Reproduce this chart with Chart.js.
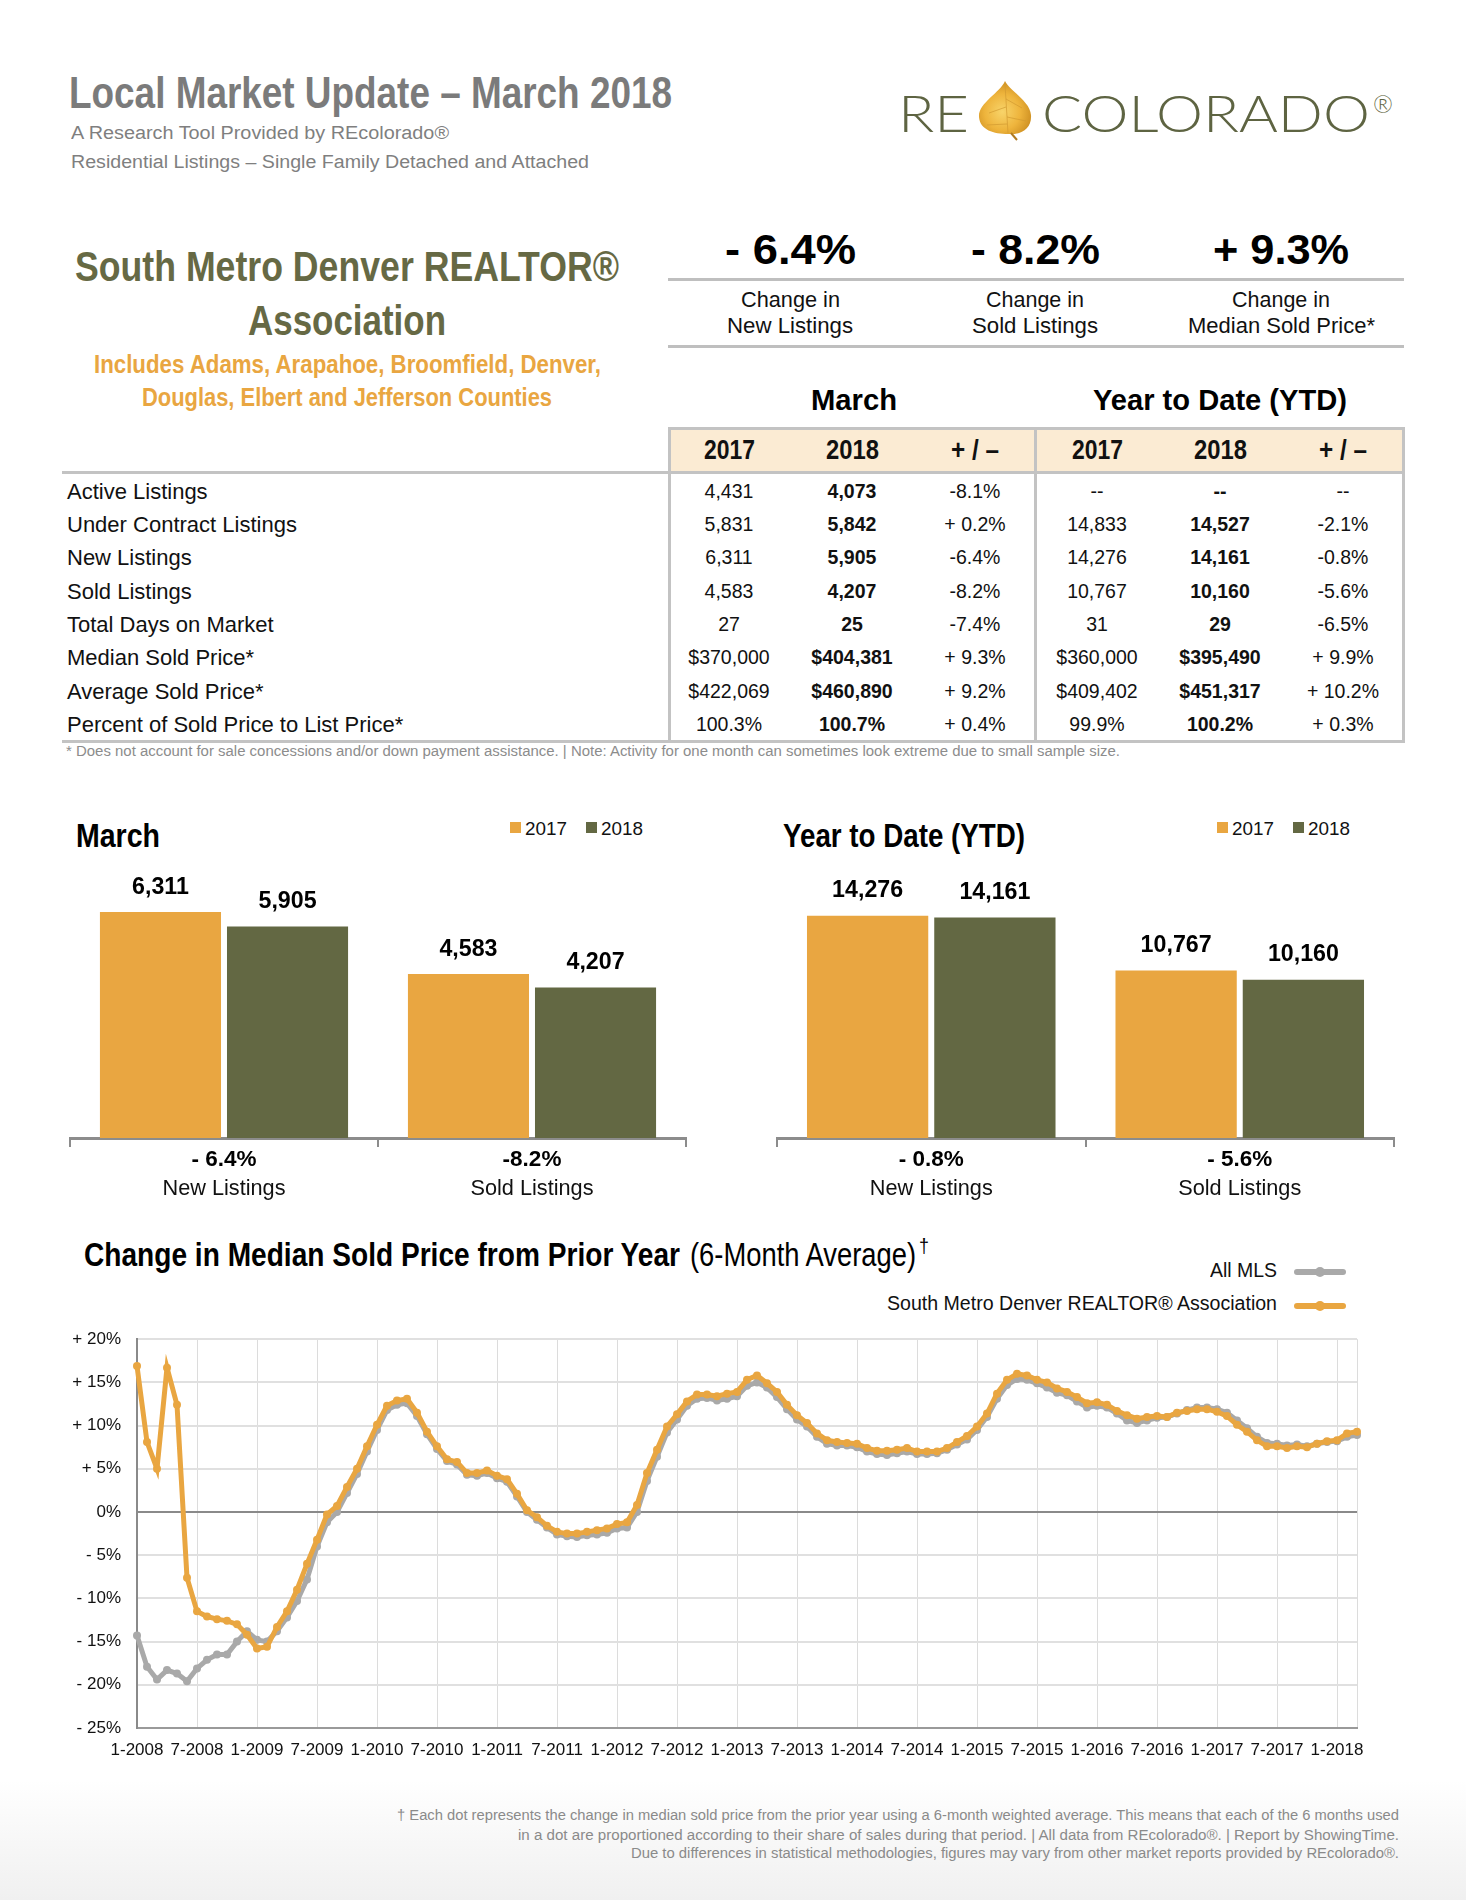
<!DOCTYPE html>
<html><head><meta charset="utf-8">
<script src="https://cdn.jsdelivr.net/npm/chart.js@4.4.1/dist/chart.umd.min.js"></script>
<style>
html,body{margin:0;padding:0;background:#fff;}
#page{position:relative;width:1466px;height:1900px;overflow:hidden;background:#fff;}
.t{position:absolute;white-space:nowrap;line-height:1;}
.r{position:absolute;}
canvas{position:absolute;}
</style></head><body><div id="page"></div>
<script>
// ---------------- DATA ----------------
const barCategories = ['New Listings', 'Sold Listings'];
const march2017 = [6311, 4583];
const march2018 = [5905, 4207];
const marchChange = ['- 6.4%', '-8.2%'];
const ytd2017 = [14276, 10767];
const ytd2018 = [14161, 10160];
const ytdChange = ['- 0.8%', '- 5.6%'];
const seriesYears = ['2017', '2018'];

const lineStart = {year: 2008, month: 1};
const lineEnd = {year: 2018, month: 3};
const smdSeries = [16.9,8.1,5.0,16.7,12.4,-7.6,-11.5,-12.1,-12.4,-12.6,-13.0,-14.2,
  -15.8,-15.6,-13.3,-11.5,-9.0,-6.0,-3.2,-0.3,0.7,2.9,5.0,7.6,
  10.1,12.3,12.9,13.1,11.5,9.3,7.6,6.1,5.8,4.5,4.5,4.8,
  4.2,3.8,2.1,0.2,-0.6,-1.6,-2.3,-2.5,-2.5,-2.3,-2.1,-1.9,
  -1.4,-1.2,0.8,4.5,7.2,9.9,11.3,12.8,13.6,13.6,13.4,13.7,
  13.9,15.3,15.8,14.9,13.9,12.4,11.2,10.3,9.1,8.3,8.1,8.0,
  7.9,7.4,7.1,7.1,7.2,7.4,7.0,7.0,7.0,7.4,8.1,8.8,
  9.9,11.4,13.7,15.3,16.0,15.8,15.3,15.0,14.3,13.9,13.3,12.6,
  12.7,12.4,11.7,11.2,10.8,11.0,11.1,11.0,11.5,11.7,11.9,11.9,
  11.6,11.1,10.1,9.3,8.3,7.6,7.6,7.4,7.6,7.5,7.9,8.2,
  8.3,9.1,9.3];
const mlsSeries = [-14.3,-17.9,-19.4,-18.3,-18.7,-19.6,-18.1,-17.1,-16.5,-16.5,-15.0,-13.8,
  -14.8,-15.0,-13.8,-12.2,-10.3,-7.8,-4.0,-1.2,0.0,2.2,4.4,7.0,
  9.5,11.8,12.4,12.6,11.1,9.0,7.3,5.9,5.5,4.3,4.2,4.5,
  3.9,3.5,1.8,0.0,-0.9,-1.8,-2.6,-2.8,-2.9,-2.7,-2.6,-2.4,
  -1.9,-1.8,0.0,3.6,6.4,9.2,10.7,12.3,13.1,13.2,12.9,13.1,
  13.4,14.6,15.0,14.4,13.3,11.9,10.7,9.9,8.7,7.9,7.7,7.7,
  7.5,7.0,6.7,6.6,6.8,7.0,6.7,6.7,6.8,7.2,7.8,8.4,
  9.5,11.0,13.1,14.7,15.4,15.3,14.9,14.4,13.8,13.5,12.8,12.1,
  12.3,12.1,11.4,10.6,10.3,10.6,10.9,11.0,11.4,11.8,12.1,12.1,
  11.9,11.5,10.6,9.7,8.7,8.0,7.9,7.7,7.8,7.6,7.9,8.1,
  8.2,8.7,8.9];
const yTickLabels = ['- 25%','- 20%','- 15%','- 10%','- 5%','0%','+ 5%','+ 10%','+ 15%','+ 20%'];
const lineLegend = ['All MLS', 'South Metro Denver REALTOR® Association'];

const keyFigures = ['- 6.4%', '- 8.2%', '+ 9.3%'];
const keyLabels = [['Change in','New Listings'],['Change in','Sold Listings'],['Change in','Median Sold Price*']];

const rowLabels = ['Active Listings','Under Contract Listings','New Listings','Sold Listings','Total Days on Market','Median Sold Price*','Average Sold Price*','Percent of Sold Price to List Price*'];
const tMarch2017 = ['4,431','5,831','6,311','4,583','27','$370,000','$422,069','100.3%'];
const tMarch2018 = ['4,073','5,842','5,905','4,207','25','$404,381','$460,890','100.7%'];
const tMarchChg  = ['-8.1%','+ 0.2%','-6.4%','-8.2%','-7.4%','+ 9.3%','+ 9.2%','+ 0.4%'];
const tYtd2017   = ['--','14,833','14,276','10,767','31','$360,000','$409,402','99.9%'];
const tYtd2018   = ['--','14,527','14,161','10,160','29','$395,490','$451,317','100.2%'];
const tYtdChg    = ['--','-2.1%','-0.8%','-5.6%','-6.5%','+ 9.9%','+ 10.2%','+ 0.3%'];

// ---------------- STYLE / LAYOUT ----------------
const ORANGE = '#e9a641', OLIVE = '#636843', GRAYL = '#a9a9a9';
const NARROW = "'Liberation Sans Narrow','Liberation Sans',Arial,sans-serif";
const SANS = "'Liberation Sans',Arial,Helvetica,sans-serif";
const page = document.getElementById('page');

function T(txt, o){
  const d = document.createElement('div');
  d.className = 't';
  d.textContent = txt;
  d.style.fontFamily = o.f || SANS;
  d.style.fontSize = o.s + 'px';
  d.style.fontWeight = o.b ? '700' : (o.wt || '400');
  d.style.color = o.c || '#111';
  d.style.top = (o.cy - o.s/2) + 'px';
  d.style.left = '0px';
  page.appendChild(d);
  const nat = d.getBoundingClientRect().width;
  const sx = o.w ? o.w / nat : (o.sx || 1);
  const W = nat * sx;
  let left = o.x;
  if (o.a === 'c') left = o.x - W/2; else if (o.a === 'r') left = o.x - W;
  d.style.left = left + 'px';
  d.style.transformOrigin = '0 0';
  d.style.transform = 'scaleX(' + sx + ')';
  return d;
}
function R(x, y, w, h, bg, extra){
  const d = document.createElement('div');
  d.className = 'r';
  d.style.left = x+'px'; d.style.top = y+'px'; d.style.width = w+'px'; d.style.height = h+'px';
  d.style.background = bg;
  if (extra) Object.assign(d.style, extra);
  page.appendChild(d);
  return d;
}

// bottom shade
R(0, 1780, 1466, 120, 'linear-gradient(#ffffff, #f0f0f0)');

// header
T('Local Market Update – March 2018', {x:69, cy:92, s:45, b:1, f:NARROW, c:'#7b7b7b', w:603});
T('A Research Tool Provided by REcolorado®', {x:71, cy:133, s:18, c:'#7f7f7f', w:378});
T('Residential Listings – Single Family Detached and Attached', {x:71, cy:162, s:18, c:'#7f7f7f', w:518});

// logo
T('RE', {x:898, cy:112, s:52, f:"Lato,'Open Sans',sans-serif", wt:'300', c:'#5e6442', w:71});
T('COLORADO', {x:1042, cy:112, s:52, f:"Lato,'Open Sans',sans-serif", wt:'300', c:'#5e6442', w:328});
T('®', {x:1373, cy:104, s:24, f:"Lato,'Open Sans',sans-serif", wt:'300', c:'#5e6442', w:20});
page.insertAdjacentHTML('beforeend',
 '<svg style="position:absolute;left:972px;top:79px" width="66" height="62" viewBox="0 0 66 62">'+
 '<defs><radialGradient id="lg" cx="45%" cy="58%" r="62%"><stop offset="0" stop-color="#f8d46a"/><stop offset="0.55" stop-color="#eeb43c"/><stop offset="1" stop-color="#c98a1e"/></radialGradient></defs>'+
 '<path d="M33 2 C 38 12, 58 22, 59 36 C 60 50, 49 56, 36 55 C 22 55, 8 51, 7 38 C 6 24, 28 14, 33 2 Z" fill="url(#lg)"/>'+
 '<path d="M33 5 L 36 54 M34 20 L 50 29 M34 28 L 17 34 M35 38 L 54 42 M35 45 L 15 46" stroke="#d29a30" stroke-width="1" fill="none" opacity="0.7"/>'+
 '<path d="M39 54 L 45 61" stroke="#b07a20" stroke-width="2"/></svg>');

// association
T('South Metro Denver REALTOR®', {x:347, cy:267, s:42, b:1, f:NARROW, c:'#666944', a:'c', w:544});
T('Association', {x:347, cy:321, s:42, b:1, f:NARROW, c:'#666944', a:'c', w:198});
T('Includes Adams, Arapahoe, Broomfield, Denver,', {x:347, cy:364, s:25, b:1, f:NARROW, c:ORANGE, a:'c', w:507});
T('Douglas, Elbert and Jefferson Counties', {x:347, cy:397, s:25, b:1, f:NARROW, c:ORANGE, a:'c', w:410});

// key figures
const keyX = [790, 1035, 1281];
const keyW = [131, 129, 136];
const keyLW = [[99,126],[98,126],[98,187]];
keyFigures.forEach((k,i)=>{
  T(k, {x:keyX[i], cy:249, s:43, b:1, f:NARROW, c:'#000', a:'c', w:keyW[i]});
  T(keyLabels[i][0], {x:keyX[i], cy:300, s:22, c:'#111', a:'c', w:keyLW[i][0]});
  T(keyLabels[i][1], {x:keyX[i], cy:326, s:22, c:'#111', a:'c', w:keyLW[i][1]});
});
R(668, 278, 736, 3, '#bfbfbf');
R(668, 345, 736, 3, '#bfbfbf');

// table
T('March', {x:854, cy:400, s:30, b:1, f:NARROW, c:'#000', a:'c', w:86});
T('Year to Date (YTD)', {x:1220, cy:400, s:30, b:1, f:NARROW, c:'#000', a:'c', w:254});
R(669, 428, 735, 45, '#fbebd3');
R(669, 427, 736, 3, '#c3c3c3');
R(62, 471, 1343, 3, '#c3c3c3');
R(62, 740, 1343, 3, '#c3c3c3');
R(668, 427, 3, 316, '#c3c3c3');
R(1034, 427, 3, 316, '#c3c3c3');
R(1402, 427, 3, 316, '#c3c3c3');
const colX = [729, 852, 975, 1097, 1220, 1343];
const headTxt = ['2017','2018','+ / –','2017','2018','+ / –'];
const headW = [51, 53, 48, 51, 53, 48];
headTxt.forEach((h,i)=>T(h, {x:colX[i], cy:450, s:27, b:1, f:NARROW, c:'#111', a:'c', w:headW[i]}));
const rowY = [492, 525, 558, 592, 625, 658, 692, 725];
const cols = [tMarch2017, tMarch2018, tMarchChg, tYtd2017, tYtd2018, tYtdChg];
rowLabels.forEach((lab, r)=>{
  T(lab, {x:67, cy:rowY[r], s:22, c:'#111'});
  cols.forEach((col, ci)=>{
    T(col[r], {x:colX[ci], cy:rowY[r], s:19.5, b:(ci===1||ci===4), c:'#111', a:'c'});
  });
});
T('* Does not account for sale concessions and/or down payment assistance.  |  Note: Activity for one month can sometimes look extreme due to small sample size.', {x:66, cy:751, s:14, c:'#8c8c8c', w:1054});

// bar chart titles + legends
T('March', {x:76, cy:835, s:33, b:1, f:NARROW, c:'#000', w:84});
T('Year to Date (YTD)', {x:783, cy:835, s:33, b:1, f:NARROW, c:'#000', w:242});
function barLegend(x0){
  R(x0, 822, 11, 11, ORANGE);
  T(seriesYears[0], {x:x0+15, cy:828, s:19, c:'#111', w:42});
  R(x0+76, 822, 11, 11, OLIVE);
  T(seriesYears[1], {x:x0+91, cy:828, s:19, c:'#111', w:42});
}
barLegend(510);
barLegend(1217);

// line chart titles + legend
T('Change in Median Sold Price from Prior Year', {x:84, cy:1254, s:34, b:1, f:NARROW, c:'#000', w:596});
T('(6-Month Average)', {x:690, cy:1254, s:34, f:NARROW, c:'#000', w:226});
T('†', {x:919, cy:1246, s:20, c:'#000', w:10});
T(lineLegend[0], {x:1277, cy:1271, s:19.5, c:'#111', a:'r', w:67});
T(lineLegend[1], {x:1277, cy:1304, s:19.5, c:'#111', a:'r', w:390});
R(1294, 1269, 52, 6, GRAYL, {borderRadius:'3px'});
R(1315, 1267, 10, 10, GRAYL, {borderRadius:'5px'});
R(1294, 1303, 52, 6, ORANGE, {borderRadius:'3px'});
R(1315, 1301, 10, 10, ORANGE, {borderRadius:'5px'});

// footer
T('† Each dot represents the change in median sold price from the prior year using a 6-month weighted average. This means that each of the 6 months used', {x:1399, cy:1815, s:14, c:'#8a8a8a', a:'r', w:1002});
T('in a dot are proportioned according to their share of sales during that period.  |  All data from REcolorado®.  |  Report by ShowingTime.', {x:1399, cy:1835, s:14, c:'#8a8a8a', a:'r', w:881});
T('Due to differences in statistical methodologies, figures may vary from other market reports provided by REcolorado®.', {x:1399, cy:1853, s:14, c:'#8a8a8a', a:'r', w:768});

// ---------------- CHARTS ----------------
const mctx = document.createElement('canvas').getContext('2d');
function fitScale(str, font, target){ mctx.font = font; return target / mctx.measureText(str).width; }
function drawText(ctx, s, x, cy, font, sx, color){
  ctx.save(); ctx.font = font; ctx.fillStyle = color || '#000';
  ctx.textAlign = 'center'; ctx.textBaseline = 'middle';
  ctx.translate(x, cy); ctx.scale(sx, 1); ctx.fillText(s, 0, 0); ctx.restore();
}
const VAL_FONT = "bold 24px " + NARROW;
const CHG_FONT = "bold 22px " + NARROW;
const CAT_FONT = "22px " + SANS;
const valSx = fitScale('14,276', VAL_FONT, 71);
const chgSx = fitScale('- 6.4%', CHG_FONT, 65);
const catSx = fitScale('New Listings', CAT_FONT, 123);

const barLabelPlugin = {
  id: 'barLabelPlugin',
  afterDatasetsDraw(chart, args, opts){
    const ctx = chart.ctx;
    chart.data.datasets.forEach((ds, di)=>{
      chart.getDatasetMeta(di).data.forEach((el, j)=>{
        drawText(ctx, ds.data[j].toLocaleString('en-US'), el.x, el.y - 25, VAL_FONT, valSx, '#000');
      });
    });
    const xs = chart.scales.x;
    chart.data.labels.forEach((lab, j)=>{
      const x = xs.getPixelForValue(j);
      drawText(ctx, opts.changes[j], x, opts.cy1, CHG_FONT, chgSx, '#000');
      drawText(ctx, lab, x, opts.cy2, CAT_FONT, catSx, '#111');
    });
  }
};

function makeBar(left, width, d17, d18, changes, max){
  const c = document.createElement('canvas');
  c.width = width; c.height = 440;
  c.style.left = left + 'px'; c.style.top = '780px';
  c.style.width = width + 'px'; c.style.height = '440px';
  page.appendChild(c);
  new Chart(c, {
    type: 'bar',
    data: {
      labels: barCategories,
      datasets: [
        {label: seriesYears[0], data: d17, backgroundColor: ORANGE, categoryPercentage: 0.825, barPercentage: 0.953},
        {label: seriesYears[1], data: d18, backgroundColor: OLIVE, categoryPercentage: 0.825, barPercentage: 0.953}
      ]
    },
    options: {
      responsive: false, animation: false,
      layout: {padding: {left: 3, right: 3, top: 0, bottom: 0}},
      plugins: {legend: {display: false}, tooltip: {enabled: false},
        barLabelPlugin: {changes: changes, cy1: 380, cy2: 409}},
      scales: {
        x: {
          grid: {display: true, drawOnChartArea: false, drawTicks: true, tickLength: 9, color: '#8c8c8c', lineWidth: 2, offset: true},
          border: {display: true, color: '#8c8c8c', width: 3},
          ticks: {display: false},
          afterFit(s){ s.height = 82; }
        },
        y: {display: false, min: 0, max: max}
      }
    },
    plugins: [barLabelPlugin]
  });
}
makeBar(67, 622, march2017, march2018, marchChange, 10000);
makeBar(774, 623, ytd2017, ytd2018, ytdChange, 23000);

// line chart
const monthLabels = [];
for (let y = lineStart.year, m = lineStart.month; y < lineEnd.year || (y === lineEnd.year && m <= lineEnd.month); ){
  monthLabels.push(m + '-' + y);
  m++; if (m > 12){ m = 1; y++; }
}
(function(){
  const c = document.createElement('canvas');
  c.width = 1340; c.height = 470;
  c.style.left = '40px'; c.style.top = '1313px';
  c.style.width = '1340px'; c.style.height = '470px';
  page.appendChild(c);
  const last = monthLabels.length - 1;
  new Chart(c, {
    type: 'line',
    data: {
      labels: monthLabels,
      datasets: [
        {label: lineLegend[1], data: smdSeries, borderColor: ORANGE, backgroundColor: ORANGE,
          borderWidth: 5, pointRadius: 4, pointHoverRadius: 4, pointBorderWidth: 0, tension: 0, order: 0, clip: false},
        {label: lineLegend[0], data: mlsSeries, borderColor: GRAYL, backgroundColor: GRAYL,
          borderWidth: 5, pointRadius: 4, pointHoverRadius: 4, pointBorderWidth: 0, tension: 0, order: 1, clip: false}
      ]
    },
    options: {
      responsive: false, animation: false,
      layout: {padding: {left: 0, right: 23, top: 0, bottom: 0}},
      plugins: {legend: {display: false}, tooltip: {enabled: false}},
      scales: {
        x: {
          type: 'category',
          grid: {color: (ctx)=> ctx.index === last ? '#c4c4c4' : '#dcdcdc', lineWidth: 1, drawTicks: false},
          border: {display: true, color: '#9a9a9a', width: 2},
          ticks: {
            autoSkip: false, maxRotation: 0, minRotation: 0, padding: 12,
            font: {family: SANS, size: 17}, color: '#111',
            callback: function(val, idx){
              const l = this.getLabelForValue(val);
              if (l.startsWith('1-') || l.startsWith('7-')) return l;
              return idx === last ? '' : null;
            }
          },
          afterFit(s){ s.height = 55; }
        },
        y: {
          min: -25, max: 20,
          grid: {color: (ctx)=> ctx.tick && ctx.tick.value === 0 ? '#8a8a8a' : '#e0e0e0', lineWidth: 2, drawTicks: false},
          border: {display: true, color: '#8a8a8a', width: 2},
          ticks: {stepSize: 5, padding: 16, font: {family: SANS, size: 17}, color: '#111',
            callback: (v)=> yTickLabels[Math.round((v + 25) / 5)]},
          afterFit(s){ s.width = 97; }
        }
      }
    }
  });
})();
</script>
</body></html>
